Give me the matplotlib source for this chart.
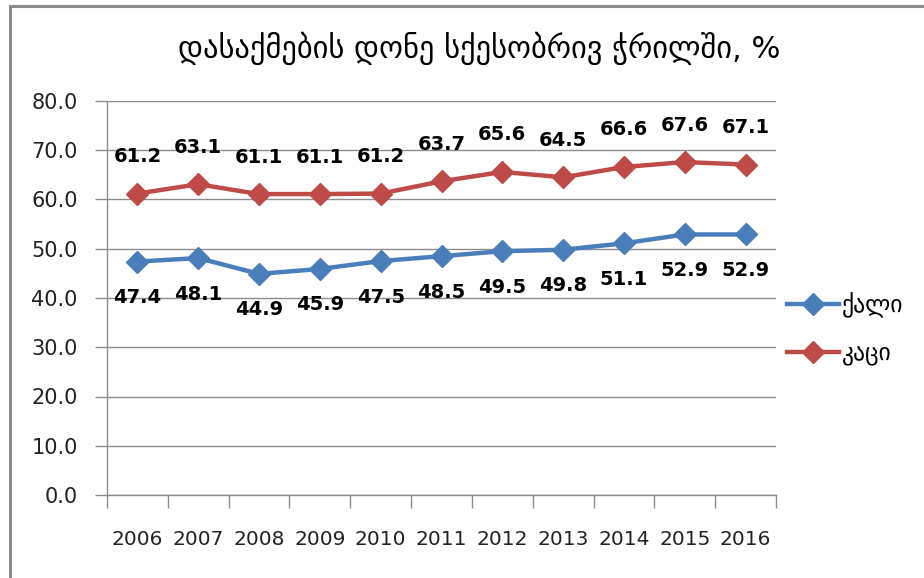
import matplotlib
matplotlib.use("Agg")
import matplotlib.pyplot as plt
from matplotlib.lines import Line2D

plt.rcParams['font.family'] = ['DejaVu Sans']

years = ["2006", "2007", "2008", "2009", "2010", "2011", "2012", "2013", "2014", "2015", "2016"]
women = [47.4, 48.1, 44.9, 45.9, 47.5, 48.5, 49.5, 49.8, 51.1, 52.9, 52.9]
men = [61.2, 63.1, 61.1, 61.1, 61.2, 63.7, 65.6, 64.5, 66.6, 67.6, 67.1]
yticks = [0, 10, 20, 30, 40, 50, 60, 70, 80]
title = "დასაქმების დონე სქესობრივ ჭრილში, %"
label_women = "ქალი"
label_men = "კაცი"

W, H = 924, 578
fig = plt.figure(figsize=(W / 100, H / 100), dpi=100)
ax = fig.add_axes([107 / W, 1 - 495 / H, (776 - 107) / W, (495 - 101) / H])

x = list(range(len(years)))
blue = "#4A7EBB"
red = "#BE4B48"
grid_c = "#8c8c8c"
ax.plot(x, women, color=blue, lw=3.2, marker="D", ms=11, label=label_women, zorder=3)
ax.plot(x, men, color=red, lw=3.2, marker="D", ms=11, label=label_men, zorder=3)

for xi, v in zip(x, women):
    ax.annotate(f"{v:.1f}", (xi, v), xytext=(0, -36), textcoords="offset pixels",
                ha="center", va="center", fontsize=14, fontweight="bold", color="black")
for xi, v in zip(x, men):
    ax.annotate(f"{v:.1f}", (xi, v), xytext=(0, 37), textcoords="offset pixels",
                ha="center", va="center", fontsize=14, fontweight="bold", color="black")

ax.set_xlim(-0.5, len(years) - 0.5)
ax.set_ylim(0, 80)
ax.set_yticks(yticks)
ax.set_yticklabels([f"{t:.1f}" for t in yticks], fontsize=15, color="#222222")
ax.set_xticks(x)
ax.set_xticklabels(years, fontsize=14.5, color="#222222")
ax.set_xticks([i - 0.5 for i in range(len(years) + 1)], minor=True)
ax.tick_params(axis="x", which="major", length=0, pad=25)
ax.tick_params(axis="x", which="minor", length=9, direction="out", color=grid_c, width=1)
ax.tick_params(axis="y", length=9, direction="out", color=grid_c, width=1, pad=12)
ax.yaxis.grid(True, color=grid_c, lw=1)
ax.set_axisbelow(True)

for s in ["top", "right"]:
    ax.spines[s].set_visible(False)
for s in ["left", "bottom"]:
    ax.spines[s].set_color(grid_c)
    ax.spines[s].set_linewidth(1)

fig.text(479 / W, 1 - 48 / H, title, ha="center", va="center", fontsize=22, color="black")

handles = [Line2D([], [], color=blue, lw=3.2, marker="D", ms=11),
           Line2D([], [], color=red, lw=3.2, marker="D", ms=11)]
leg = fig.legend(handles, [label_women, label_men], loc="center left",
                 bbox_to_anchor=(766 / W, 1 - 329 / H), frameon=False, fontsize=17,
                 handlelength=2.2, handletextpad=0.1, labelspacing=1.0)

fig.add_artist(Line2D([9.5 / W, 9.5 / W], [0, 1 - 5.5 / H], color=grid_c, lw=2.2,
                      transform=fig.transFigure))
fig.add_artist(Line2D([9.5 / W, 1], [1 - 5.5 / H, 1 - 5.5 / H], color=grid_c, lw=2.2,
                      transform=fig.transFigure))

fig.savefig("out.png", dpi=100)
